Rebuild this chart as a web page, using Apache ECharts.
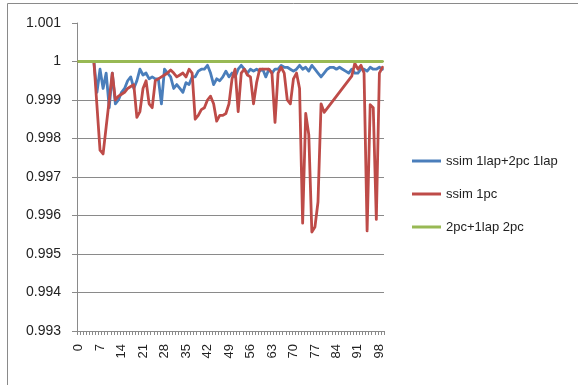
<!DOCTYPE html>
<html>
<head>
<meta charset="utf-8">
<script src="https://cdn.jsdelivr.net/npm/echarts@6/dist/echarts.min.js"></script>
<style>
  html, body { margin: 0; padding: 0; background: #fff; }
  #chart { width: 578px; height: 385px; }
</style>
</head>
<body>
<div id="chart"></div>
<script>
// Frame indices along the x axis
const frames = [
  0, 1, 2, 3, 4, 5, 6, 7, 8, 9, 10, 11, 12, 13, 14, 15, 16, 17, 18, 19,
  20, 21, 22, 23, 24, 25, 26, 27, 28, 29, 30, 31, 32, 33, 34, 35, 36, 37, 38, 39,
  40, 41, 42, 43, 44, 45, 46, 47, 48, 49, 50, 51, 52, 53, 54, 55, 56, 57, 58, 59,
  60, 61, 62, 63, 64, 65, 66, 67, 68, 69, 70, 71, 72, 73, 74, 75, 76, 77, 78, 79,
  80, 81, 82, 83, 84, 85, 86, 87, 88, 89, 90, 91, 92, 93, 94, 95, 96, 97, 98, 99
];

// SSIM, 1 laplacian + 2 principal components vs 1 laplacian
const ssimLapPc = [
  1, 1, 1, 1, 1, 1, 0.9992, 0.9998, 0.9993, 0.9997,
  0.9988, 0.9997, 0.9989, 0.9990, 0.9992, 0.9993, 0.9995, 0.9996, 0.9993, 0.9995,
  0.9998, 0.99965, 0.9997, 0.99955, 0.9996, 0.99955, 0.99955, 0.9989, 0.9998, 0.9997,
  0.9996, 0.9993, 0.9994, 0.9993, 0.9992, 0.99945, 0.9994, 0.9996, 0.9996, 0.99975,
  0.9998, 0.9998, 0.9999, 0.9997, 0.9994, 0.99955, 0.9995, 0.9996, 0.99975, 0.9996,
  0.9997, 0.9996, 0.9998, 0.9999, 0.9998, 0.9997, 0.9998, 0.99975, 0.9998, 0.99975,
  0.9998, 0.9996, 0.9998, 0.9997, 0.9998, 0.9998, 0.9999, 0.99985, 0.99985, 0.9998,
  0.99975, 0.9998, 0.9999, 0.9998, 0.99985, 0.99975, 0.9999, 0.9998, 0.9997, 0.9996,
  0.9997, 0.9998, 0.99985, 0.99985, 0.9998, 0.99985, 0.9998, 0.99975, 0.9997, 0.9998,
  0.9997, 0.9997, 0.9998, 0.9998, 0.99975, 0.99985, 0.9998, 0.9998, 0.99985, 0.9998
];

// SSIM, 1 principal component (frames 81-88 missing)
const ssimPc = [
  1, 1, 1, 1, 1, 1, 0.99885, 0.9977, 0.9976, 0.9983,
  0.9990, 0.9997, 0.9990, 0.9991, 0.99915, 0.9992, 0.9993, 0.99935, 0.9994, 0.99855,
  0.9987, 0.9993, 0.9995, 0.9989, 0.9988, 0.9995, 0.99955, 0.9996, 0.99965, 0.9997,
  0.99978, 0.9997, 0.9996, 0.99965, 0.9997, 0.9996, 0.9998, 0.9997, 0.9985, 0.9986,
  0.99875, 0.9988, 0.9990, 0.9991, 0.9989, 0.99845, 0.9986, 0.9986, 0.99865, 0.9989,
  0.99955, 0.9998, 0.9987, 0.9997, 0.9998, 0.99965, 0.9996, 0.9989, 0.99945, 0.9998,
  0.9998, 0.9998, 0.9998, 0.9997, 0.99842, 0.9997, 0.99985, 0.9997, 0.9990, 0.9989,
  0.99955, 0.9997, 0.9993, 0.9958, 0.99865, 0.9981, 0.99557, 0.9957, 0.99635, 0.9989,
  0.99868, null, null, null, null, null, null, null, null, 0.99962,
  0.99995, 0.9998, 0.9999, 0.9997, 0.9956, 0.99888, 0.9988, 0.9959, 0.9997, 0.99985
];

// 2 principal components + 1 laplacian vs 2 principal components
const pcLapPc = [
  1, 1, 1, 1, 1, 1, 1, 1, 1, 1, 1, 1, 1, 1, 1, 1, 1, 1, 1, 1,
  1, 1, 1, 1, 1, 1, 1, 1, 1, 1, 1, 1, 1, 1, 1, 1, 1, 1, 1, 1,
  1, 1, 1, 1, 1, 1, 1, 1, 1, 1, 1, 1, 1, 1, 1, 1, 1, 1, 1, 1,
  1, 1, 1, 1, 1, 1, 1, 1, 1, 1, 1, 1, 1, 1, 1, 1, 1, 1, 1, 1,
  1, 1, 1, 1, 1, 1, 1, 1, 1, 1, 1, 1, 1, 1, 1, 1, 1, 1, 1, 1
];

const seriesNames = ['ssim 1lap+2pc 1lap', 'ssim 1pc', '2pc+1lap 2pc'];
const seriesColors = ['#4a7ebb', '#be4b48', '#98b954'];

const font = '"Liberation Sans", Arial, sans-serif';
const gridColor = '#8a8a8a';

function lineSeries(name, data, color) {
  return {
    name: name,
    type: 'line',
    data: data,
    symbol: 'none',
    connectNulls: true,
    animation: false,
    lineStyle: { color: color, width: 2.8, join: 'round', cap: 'round' },
    itemStyle: { color: color }
  };
}

const chart = echarts.init(document.getElementById('chart'), null, { renderer: 'canvas' });
chart.setOption({
  backgroundColor: '#ffffff',
  animation: false,
  graphic: [{
    type: 'rect',
    shape: { x: 7.5, y: 3.5, width: 620, height: 420 },
    style: { fill: 'none', stroke: '#8a8a8a', lineWidth: 1 },
    silent: true
  }],
  grid: { left: 77, right: 194, top: 23, bottom: 54, containLabel: false },
  legend: {
    orient: 'vertical',
    left: 407,
    top: 149,
    itemWidth: 29,
    itemHeight: 3,
    itemGap: 19,
    icon: 'rect',
    data: seriesNames,
    textStyle: { fontFamily: font, fontSize: 13, color: '#222', lineHeight: 14 }
  },
  xAxis: {
    type: 'category',
    data: frames,
    boundaryGap: true,
    axisLine: { show: true, lineStyle: { color: gridColor, width: 1 } },
    axisTick: { show: true, interval: 0, length: 4, lineStyle: { color: gridColor } },
    axisLabel: {
      interval: 6,
      rotate: 90,
      margin: 13,
      fontFamily: font,
      fontSize: 13,
      color: '#222'
    },
    splitLine: { show: false }
  },
  yAxis: {
    type: 'value',
    min: 0.993,
    max: 1.001,
    interval: 0.001,
    axisLine: { show: true, lineStyle: { color: gridColor, width: 1 } },
    axisTick: { show: true, length: 5, inside: false, lineStyle: { color: gridColor } },
    axisLabel: {
      margin: 16,
      fontFamily: font,
      fontSize: 14,
      color: '#222',
      formatter: function (v) { return String(+v.toFixed(3)); }
    },
    splitLine: { show: true, showMaxLine: false, lineStyle: { color: gridColor, width: 1 } }
  },
  series: [
    lineSeries(seriesNames[0], ssimLapPc, seriesColors[0]),
    lineSeries(seriesNames[1], ssimPc, seriesColors[1]),
    lineSeries(seriesNames[2], pcLapPc, seriesColors[2])
  ]
});
</script>
</body>
</html>
